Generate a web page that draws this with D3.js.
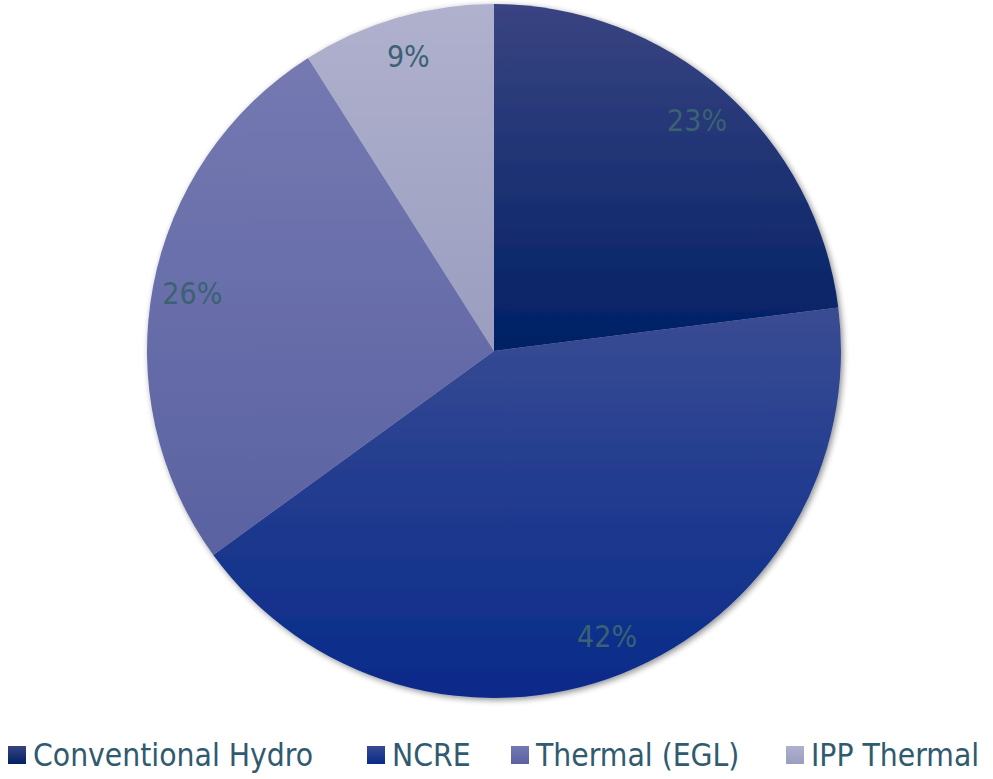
<!DOCTYPE html>
<html>
<head>
<meta charset="utf-8">
<script src="https://cdn.jsdelivr.net/npm/d3@7/dist/d3.min.js"></script>
<style>
  html, body { margin: 0; padding: 0; background: #ffffff; }
  svg { display: block; }
</style>
</head>
<body>
<svg id="chart" width="993" height="779"></svg>
<script>
// Generation mix shares
const categories = ["Conventional Hydro", "NCRE", "Thermal (EGL)", "IPP Thermal"];
const shares = [23, 42, 26, 9];
const labels = ["23%", "42%", "26%", "9%"];

// Gradient stops per slice (top, bottom)
const topColors = ["#3a4482", "#3a4c93", "#7579b2", "#afb1cd"];
const bottomColors = ["#002064", "#072a8a", "#5a62a1", "#9a9dbf"];

const width = 993, height = 779;
const cx = 494, cy = 351, radius = 347;

const svg = d3.select("#chart");
const defs = svg.append("defs");

categories.forEach((c, i) => {
  const g = defs.append("linearGradient")
    .attr("id", "grad" + i)
    .attr("x1", 0).attr("y1", 0).attr("x2", 0).attr("y2", 1);
  g.append("stop").attr("offset", "0%").attr("stop-color", topColors[i]);
  g.append("stop").attr("offset", "100%").attr("stop-color", bottomColors[i]);
});

const shadow = defs.append("filter").attr("id", "shadow")
  .attr("x", "-10%").attr("y", "-10%").attr("width", "120%").attr("height", "120%");
shadow.append("feGaussianBlur").attr("in", "SourceAlpha").attr("stdDeviation", 3).attr("result", "blur");
shadow.append("feOffset").attr("in", "blur").attr("dx", 2).attr("dy", 2).attr("result", "off");
shadow.append("feComponentTransfer").attr("in", "off").attr("result", "shade")
  .append("feFuncA").attr("type", "linear").attr("slope", 0.45);
const merge = shadow.append("feMerge");
merge.append("feMergeNode").attr("in", "shade");
merge.append("feMergeNode").attr("in", "SourceGraphic");

const pie = d3.pie().sort(null).value(d => d);
const arcs = pie(shares);
const arc = d3.arc().innerRadius(0).outerRadius(radius);

const g = svg.append("g").attr("transform", `translate(${cx},${cy})`);

const pieGroup = g.append("g").attr("filter", "url(#shadow)");
pieGroup.selectAll("path.slice")
  .data(arcs)
  .enter().append("path")
  .attr("class", "slice")
  .attr("d", arc)
  .attr("fill", (d, i) => `url(#grad${i})`);

// Percentage labels
const labelArc = d3.arc().innerRadius(radius * 0.885).outerRadius(radius * 0.885);
g.selectAll("text.pct")
  .data(arcs)
  .enter().append("text")
  .attr("class", "pct")
  .attr("transform", d => `translate(${labelArc.centroid(d)})`)
  .attr("text-anchor", "middle")
  .attr("dominant-baseline", "central")
  .attr("font-family", "'DejaVu Sans Condensed', 'DejaVu Sans', sans-serif")
  .attr("font-size", 30)
  .attr("fill", "#3a6272")
  .text((d, i) => labels[i]);

// Legend
const legendX = [8, 367, 511, 786];
const legend = svg.append("g");
categories.forEach((c, i) => {
  const item = legend.append("g").attr("transform", `translate(${legendX[i]},746)`);
  item.append("rect").attr("width", 18).attr("height", 18).attr("fill", `url(#grad${i})`);
  item.append("text")
    .attr("x", 25).attr("y", 20)
    .attr("font-family", "'DejaVu Sans Condensed', 'DejaVu Sans', sans-serif")
    .attr("font-size", 31.5)
    .attr("fill", "#2f5a70")
    .text(c);
});
</script>
</body>
</html>
